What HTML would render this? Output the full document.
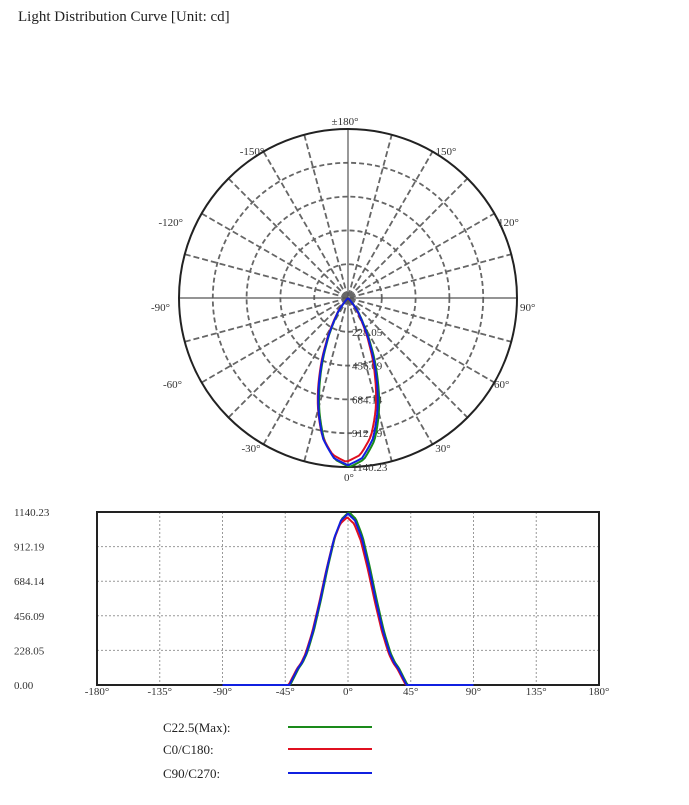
<!DOCTYPE html>
<html><head><meta charset="utf-8"><style>
body{margin:0;background:#fff;width:689px;height:800px;overflow:hidden;font-family:"Liberation Serif",serif}
</style></head><body>
<svg id="s" width="689" height="800" xmlns="http://www.w3.org/2000/svg" font-family="Liberation Serif, serif" fill="#333">
<text x="18" y="21" font-size="15" fill="#222">Light Distribution Curve [Unit: cd]</text>
<g id="polar"></g>
<g id="cart"></g>
<g font-size="13" fill="#222">
<text x="163" y="732">C22.5(Max):</text>
<text x="163" y="754">C0/C180:</text>
<text x="163" y="778">C90/C270:</text>
</g>
<line x1="288" y1="727" x2="372" y2="727" stroke="#1a8a1a" stroke-width="2"/>
<line x1="288" y1="749" x2="372" y2="749" stroke="#e01020" stroke-width="2"/>
<line x1="288" y1="773" x2="372" y2="773" stroke="#1020e0" stroke-width="2"/>
</svg>
<script>
var NS="http://www.w3.org/2000/svg";
function el(p,t,a,txt){var e=document.createElementNS(NS,t);for(var k in a)e.setAttribute(k,a[k]);if(txt!=null)e.textContent=txt;p.appendChild(e);return e;}
var P=document.getElementById("polar"),C=document.getElementById("cart");
var cx=348,cy=298,R=169;
for(var i=1;i<=4;i++)el(P,"circle",{cx:cx,cy:cy,r:R*i/5,fill:"none",stroke:"#666","stroke-width":1.8,"stroke-dasharray":"5,3"});
el(P,"circle",{cx:cx,cy:cy,r:5,fill:"none",stroke:"#888","stroke-width":1.5,"stroke-dasharray":"2,2"});
for(var a=0;a<180;a+=15){if(a%90==0)continue;var t=a*Math.PI/180;
el(P,"line",{x1:cx-R*Math.sin(t),y1:cy-R*Math.cos(t),x2:cx+R*Math.sin(t),y2:cy+R*Math.cos(t),stroke:"#666","stroke-width":1.8,"stroke-dasharray":"6,3"});}
el(P,"line",{x1:cx-R,y1:cy,x2:cx+R,y2:cy,stroke:"#555","stroke-width":1.2});
el(P,"line",{x1:cx,y1:cy-R,x2:cx,y2:cy+R,stroke:"#555","stroke-width":1.2});
el(P,"circle",{cx:cx,cy:cy,r:R,fill:"none",stroke:"#222","stroke-width":2});
var lab=[["±180°",345,125,"middle"],["-150°",252,155,"middle"],["150°",446,155,"middle"],["-120°",183,226,"end"],["120°",498,226,"start"],["-90°",170,311,"end"],["90°",520,311,"start"],["-60°",182,388,"end"],["60°",494,388,"start"],["-30°",251,452,"middle"],["30°",443,452,"middle"],["0°",349,481,"middle"]];
lab.forEach(function(l){el(P,"text",{x:l[1],y:l[2],"font-size":11,"text-anchor":l[3]},l[0]);});
var rl=["228.05","456.09","684.14","912.19","1140.23"];
rl.forEach(function(s,i){el(P,"text",{x:352,y:cy+R*(i+1)/5+4,"font-size":11},s);});
var T=[[0,1140],[5,1095],[10,975],[15,780],[20,560],[25,360],[30,210],[33,150],[36,110],[39,55],[42,0],[180,0]];
function I(th){th=Math.abs(th);for(var i=0;i<T.length-1;i++){if(th<=T[i+1][0]){var f=(th-T[i][0])/(T[i+1][0]-T[i][0]);return T[i][1]+f*(T[i+1][1]-T[i][1]);}}return 0;}
function polarPath(sh,k){var d="";for(var th=-45;th<=45;th+=1){var v=I(th-sh)*k,r=v/1140.23*R,t=th*Math.PI/180;d+=(d?"L":"M")+(cx+r*Math.sin(t)).toFixed(1)+","+(cy+r*Math.cos(t)).toFixed(1);}return d;}
function cartPath(sh,k){var x0=97,x1=599,y0=685,y1=512,d="";for(var th=-90;th<=90;th+=1){var v=I(th-sh)*k;d+=(d?"L":"M")+(x0+(th+180)/360*(x1-x0)).toFixed(1)+","+(y0-v/1140.23*(y0-y1)).toFixed(1);}return d;}
var S=[["#1a8a1a",0.6,1],["#e01020",-0.6,0.97],["#1020e0",0,0.99]];
S.forEach(function(s){el(P,"path",{d:polarPath(s[1],s[2]),fill:"none",stroke:s[0],"stroke-width":2});});
var x0=97,x1=599,y0=685,y1=512;
for(var i=1;i<8;i++){var x=x0+i*(x1-x0)/8;el(C,"line",{x1:x,y1:y1,x2:x,y2:y0,stroke:"#999","stroke-dasharray":"2,2"});}
var yl=["0.00","228.05","456.09","684.14","912.19","1140.23"];
for(var i=0;i<=5;i++){var y=y0-i*(y0-y1)/5;if(i>0&&i<5)el(C,"line",{x1:x0,y1:y,x2:x1,y2:y,stroke:"#999","stroke-dasharray":"2,2"});el(C,"text",{x:14,y:y+4,"font-size":11},yl[i]);}
el(C,"rect",{x:x0,y:y1,width:x1-x0,height:y0-y1,fill:"none",stroke:"#222","stroke-width":2});
var xl=["-180°","-135°","-90°","-45°","0°","45°","90°","135°","180°"];
xl.forEach(function(s,i){el(C,"text",{x:x0+i*(x1-x0)/8,y:695,"font-size":11,"text-anchor":"middle"},s);});
S.forEach(function(s){el(C,"path",{d:cartPath(s[1],s[2]),fill:"none",stroke:s[0],"stroke-width":2});});
</script>
</body></html>
